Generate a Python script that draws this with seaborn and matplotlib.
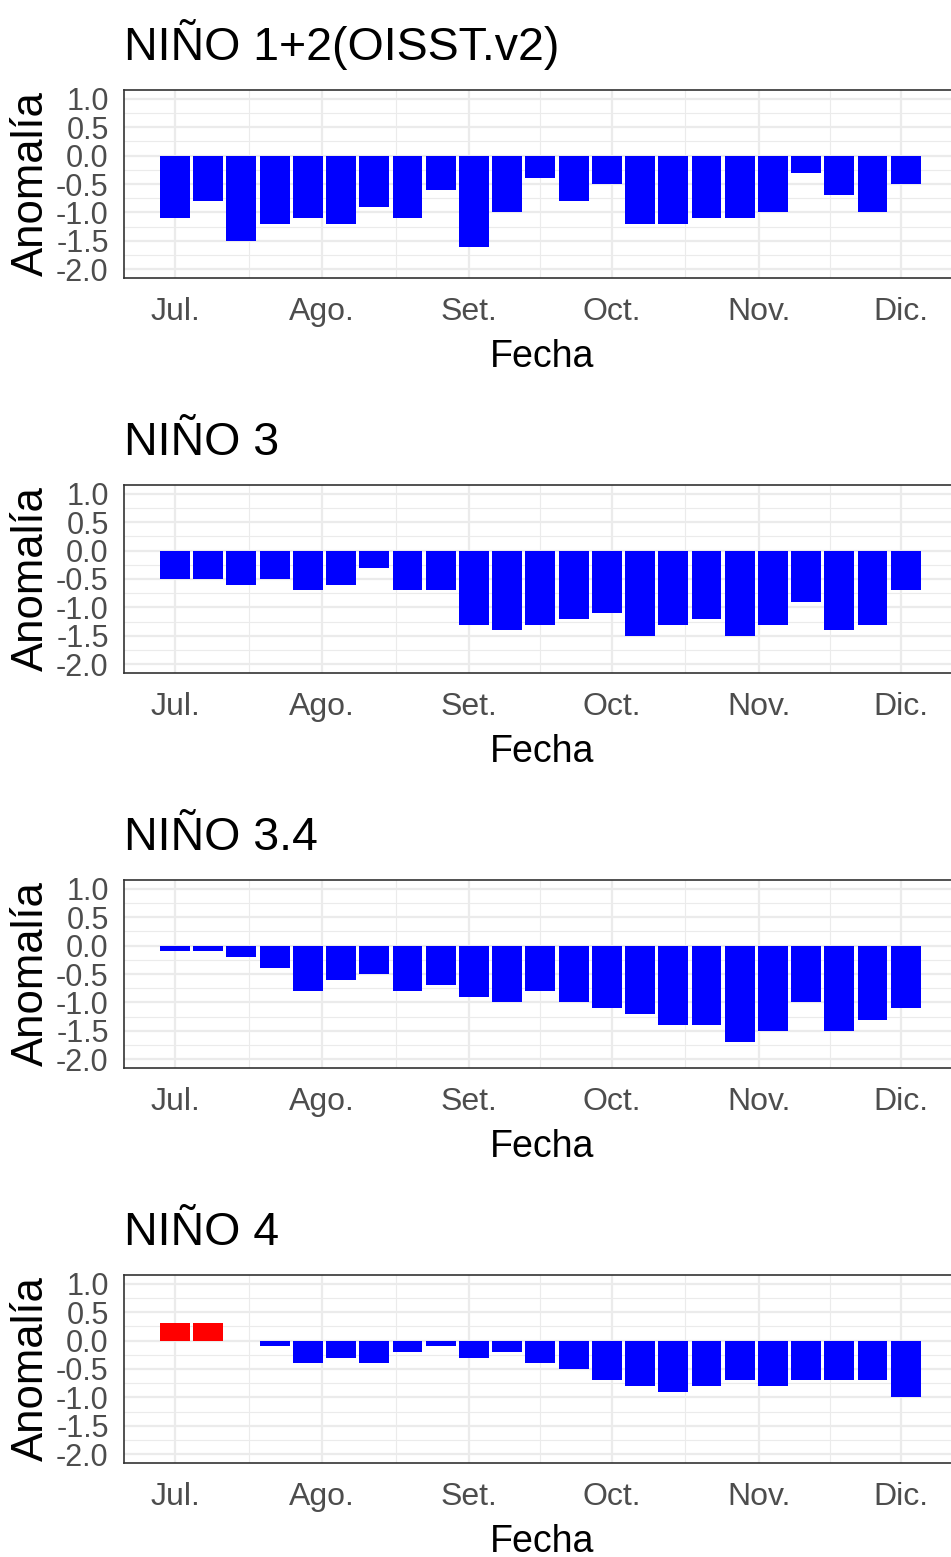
import matplotlib
matplotlib.use("Agg")
import matplotlib.pyplot as plt
import matplotlib.dates as mdates
import seaborn as sns
import pandas as pd
import numpy as np
import datetime as dt

# ---- data ----
titles = ["NIÑO 1+2(OISST.v2)", "NIÑO 3", "NIÑO 3.4", "NIÑO 4"]
start_date = "2020-07-01"
n_weeks = 23
nino12 = [-1.1, -0.8, -1.5, -1.2, -1.1, -1.2, -0.9, -1.1, -0.6, -1.6, -1.0, -0.4,
          -0.8, -0.5, -1.2, -1.2, -1.1, -1.1, -1.0, -0.3, -0.7, -1.0, -0.5]
nino3 = [-0.5, -0.5, -0.6, -0.5, -0.7, -0.6, -0.3, -0.7, -0.7, -1.3, -1.4, -1.3,
         -1.2, -1.1, -1.5, -1.3, -1.2, -1.5, -1.3, -0.9, -1.4, -1.3, -0.7]
nino34 = [-0.1, -0.1, -0.2, -0.4, -0.8, -0.6, -0.5, -0.8, -0.7, -0.9, -1.0, -0.8,
          -1.0, -1.1, -1.2, -1.4, -1.4, -1.7, -1.5, -1.0, -1.5, -1.3, -1.1]
nino4 = [0.3, 0.3, 0.0, -0.1, -0.4, -0.3, -0.4, -0.2, -0.1, -0.3, -0.2, -0.4,
         -0.5, -0.7, -0.8, -0.9, -0.8, -0.7, -0.8, -0.7, -0.7, -0.7, -1.0]
series = [nino12, nino3, nino34, nino4]
month_starts = ["2020-07-01", "2020-08-01", "2020-09-01", "2020-10-01", "2020-11-01", "2020-12-01"]
month_labels = ["Jul.", "Ago.", "Set.", "Oct.", "Nov.", "Dic."]
y_ticks = [-2.0, -1.5, -1.0, -0.5, 0.0, 0.5, 1.0]

sns.set_style("white")
plt.rcParams["font.family"] = ["Liberation Sans", "DejaVu Sans"]

W, H = 951, 1557
fig = plt.figure(figsize=(W / 100, H / 100), dpi=100)

dates = pd.date_range(start_date, periods=n_weeks, freq="7D")
xnum = mdates.date2num(dates.to_pydatetime())
mnum = mdates.date2num([dt.datetime.fromisoformat(m) for m in month_starts])
minor_x = (mnum[:-1] + mnum[1:]) / 2.0

ax_left_px, ax_right_px = 124, 960
ax_h_px = 188
px_per_day = (901 - 175) / (mnum[-1] - mnum[0])
xmin = mnum[0] - (175 - ax_left_px) / px_per_day
xmax = mnum[-1] + (ax_right_px - 901) / px_per_day

grid_c = "#EBEBEB"
dark = "#333333"

for k, (title, vals) in enumerate(zip(titles, series)):
    top_px = 90 + 395 * k
    ax = fig.add_axes([ax_left_px / W, 1 - (top_px + ax_h_px) / H,
                       (ax_right_px - ax_left_px) / W, ax_h_px / H])
    df = pd.DataFrame({"x": xnum, "y": vals,
                       "sign": ["pos" if v > 0 else "neg" for v in vals]})
    sns.barplot(data=df, x="x", y="y", hue="sign", native_scale=True, dodge=False,
                palette={"pos": "#FF0000", "neg": "#0000FF"}, saturation=1, width=0.9,
                linewidth=0, legend=False, ax=ax, zorder=3)
    ax.set_xlim(xmin, xmax)
    ax.set_ylim(-2.15, 1.15)
    ax.set_xticks(mnum)
    ax.set_xticklabels(month_labels, fontsize=23, color="#4D4D4D")
    ax.set_xticks(minor_x, minor=True)
    ax.set_yticks(y_ticks)
    ax.set_yticklabels([f"{v:.1f}" for v in y_ticks], fontsize=22, color="#4D4D4D")
    ax.set_yticks(np.arange(-1.75, 1.0, 0.5), minor=True)
    ax.tick_params(axis="both", which="major", length=6, width=1.3, color=dark)
    ax.tick_params(axis="x", which="major", pad=8)
    ax.tick_params(axis="y", which="major", pad=5)
    ax.tick_params(axis="both", which="minor", length=0)
    ax.grid(True, which="major", color=grid_c, linewidth=1.6, zorder=0)
    ax.grid(True, which="minor", color=grid_c, linewidth=0.8, zorder=0)
    ax.set_axisbelow(True)
    for sp in ax.spines.values():
        sp.set_color(dark)
        sp.set_linewidth(1.2)
        sp.set_visible(True)
    ax.set_title(title, loc="left", fontsize=33.5, color="black",
                 y=1 + 30 / ax_h_px, va="baseline", pad=0)
    ax.set_xlabel("Fecha", fontsize=27, color="black", va="baseline")
    ax.xaxis.set_label_coords(0.5, -89 / ax_h_px)
    ax.set_ylabel("Anomalía", fontsize=31.5, color="black", va="baseline")
    ax.yaxis.set_label_coords((43 - ax_left_px) / (ax_right_px - ax_left_px), 0.5)

fig.savefig("out.png", dpi=100)
